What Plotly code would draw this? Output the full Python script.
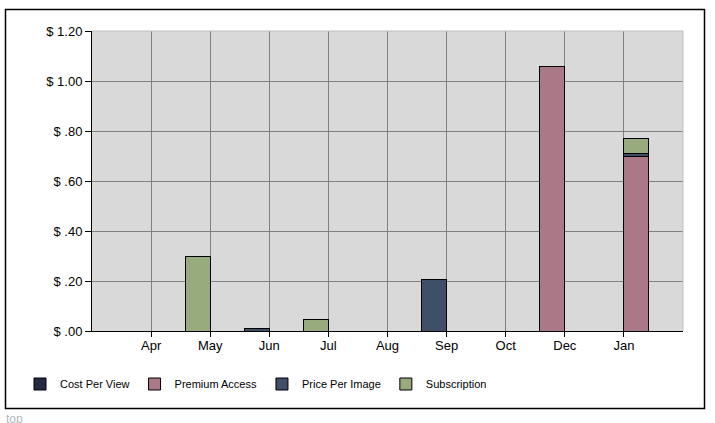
import plotly.graph_objects as go

# ---------------- data ----------------
months = ["Apr", "May", "Jun", "Jul", "Aug", "Sep", "Oct", "Dec", "Jan"]
cost_per_view = [None, None, None, None, None, None, None, None, None]
premium_access = [None, None, None, None, None, None, None, 1.06, 0.70]
price_per_image = [None, None, 0.009, None, None, 0.205, None, None, 0.009]
subscription = [None, 0.297, None, 0.045, None, None, None, None, 0.06]

y_tick_vals = [0, 0.2, 0.4, 0.6, 0.8, 1.0, 1.2]
y_tick_text = ["$ .00", "$ .20", "$ .40", "$ .60", "$ .80", "$ 1.00", "$ 1.20"]

series = [
    ("Cost Per View", cost_per_view, "#262b45"),
    ("Premium Access", premium_access, "#ab7887"),
    ("Price Per Image", price_per_image, "#3e4f67"),
    ("Subscription", subscription, "#97ab7d"),
]

# ---------------- style ----------------
W, H = 715, 423
L, R, T, B = 92, 32, 31, 92
bar_w = 0.42
# bars sit left of their tick, except the last month which sits to the right
offsets = [-bar_w] * (len(months) - 1) + [0]

FONT = "Liberation Sans, Arial, sans-serif"

fig = go.Figure()
for name, vals, color in series:
    fig.add_trace(go.Bar(
        name=name, x=months, y=vals,
        width=bar_w, offset=offsets,
        marker=dict(color=color, line=dict(color="#000000", width=1)),
    ))

pw = W - L - R
ph = H - T - B
def px_x(p):
    return (p - L) / pw
def px_y(p):
    return (H - B - p) / ph

shapes = [
    # light top & right border of plot area
    dict(type="line", xref="paper", yref="paper", x0=0, x1=1, y0=1, y1=1,
         line=dict(color="#c0c0c0", width=1), layer="above"),
    dict(type="line", xref="paper", yref="paper", x0=1, x1=1, y0=0, y1=1,
         line=dict(color="#c0c0c0", width=1), layer="above"),
    # outer frame
    dict(type="rect", xref="paper", yref="paper",
         x0=px_x(5.5), x1=px_x(704.5), y0=px_y(408.5), y1=px_y(9.5),
         line=dict(color="#000000", width=1.5), fillcolor="rgba(0,0,0,0)"),
]

fig.update_layout(
    width=W, height=H,
    margin=dict(l=L, r=R, t=T, b=B, autoexpand=False),
    barmode="stack",
    paper_bgcolor="#ffffff",
    plot_bgcolor="#d9d9d9",
    font=dict(family=FONT, size=12, color="#000000"),
    showlegend=True,
    legend=dict(orientation="h", x=px_x(20), y=px_y(384), xanchor="left", yanchor="middle",
                font=dict(family=FONT, size=11, color="#000000"),
                bgcolor="rgba(0,0,0,0)", traceorder="normal"),
    shapes=shapes,
    annotations=[dict(text="top", xref="paper", yref="paper", x=px_x(4), y=px_y(410),
                      xanchor="left", yanchor="top", showarrow=False,
                      font=dict(family=FONT, size=12, color="#b0b8c0"))],
    xaxis=dict(
        type="category", categoryorder="array", categoryarray=months,
        range=[-1, len(months)],
        showgrid=True, gridcolor="#808080", gridwidth=1,
        showline=True, linecolor="#000000", linewidth=1,
        ticks="outside", ticklen=5, tickcolor="#000000",
        ticklabelstandoff=-3,
        tickfont=dict(family=FONT, size=13, color="#000000"),
        zeroline=False, fixedrange=True,
    ),
    yaxis=dict(
        range=[0, 1.2], tickvals=y_tick_vals, ticktext=y_tick_text,
        showgrid=True, gridcolor="#808080", gridwidth=1,
        showline=True, linecolor="#000000", linewidth=1,
        ticks="outside", ticklen=6, tickcolor="#000000",
        tickfont=dict(family=FONT, size=13, color="#000000"),
        zeroline=False, fixedrange=True,
    ),
)

fig.write_html("out.html", config={"displayModeBar": False},
               post_script="document.body.style.margin='0';")
